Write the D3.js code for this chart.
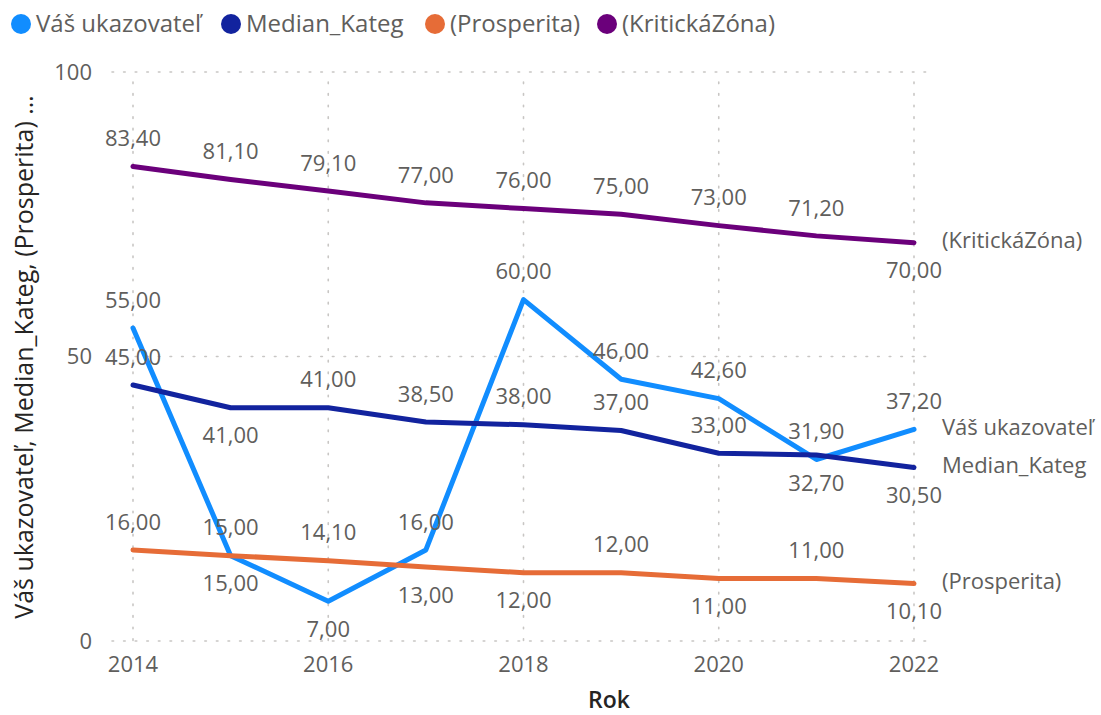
<!DOCTYPE html>
<html lang="en">
<head>
<meta charset="utf-8"/>
<title>Rok chart</title>
<script src="https://cdn.jsdelivr.net/npm/d3@7"></script>
<style>
  body { margin: 0; background: #fff; }
  text { font-family: "Open Sans", "Noto Sans", sans-serif; }
</style>
</head>
<body>
<svg id="chart" width="1101" height="715"></svg>
<script>
// data
const years = [2014, 2015, 2016, 2017, 2018, 2019, 2020, 2021, 2022];
const vasUkazovatel = [55, 15, 7, 16, 60, 46, 42.6, 31.9, 37.2];
const medianKateg = [45, 41, 41, 38.5, 38, 37, 33, 32.7, 30.5];
const prosperita = [16, 15, 14.1, 13, 12, 12, 11, 11, 10.1];
const kritickaZona = [83.4, 81.1, 79.1, 77, 76, 75, 73, 71.2, 70];
const seriesNames = ['Váš ukazovateľ', 'Median_Kateg', '(Prosperita)', '(KritickáZóna)'];
const yTicks = [0, 50, 100];
const xTicks = [2014, 2016, 2018, 2020, 2022];

// which side of the point each data label sits (1 = above, -1 = below)
const labelSide = [
  [1, -1, -1, 1, 1, 1, 1, 1, 1],
  [1, -1, 1, 1, 1, 1, 1, -1, -1],
  [1, 1, 1, -1, -1, 1, -1, 1, -1],
  [1, 1, 1, 1, 1, 1, 1, 1, -1]
];

const colors = ['#118DFF', '#12239E', '#E66C37', '#6B007B'];
const allValues = [vasUkazovatel, medianKateg, prosperita, kritickaZona];

const svg = d3.select('#chart');
const x = d3.scaleLinear().domain([2014, 2022]).range([133, 914]);
const y = d3.scaleLinear().domain([0, 100]).range([641, 72]);
const fmt = v => d3.format('.2f')(v).replace('.', ',');

// gridlines
svg.append('g').selectAll('line').data(yTicks).enter().append('line')
  .attr('x1', 112).attr('x2', 935)
  .attr('y1', d => y(d)).attr('y2', d => y(d))
  .attr('stroke', '#c8c6c4').attr('stroke-width', 1.6)
  .attr('stroke-dasharray', '1.6 10').attr('stroke-linecap', 'round');
svg.append('g').selectAll('line').data(xTicks).enter().append('line')
  .attr('x1', d => x(d)).attr('x2', d => x(d))
  .attr('y1', y(100) + 10).attr('y2', y(0))
  .attr('stroke', '#c8c6c4').attr('stroke-width', 1.6)
  .attr('stroke-dasharray', '1.6 10').attr('stroke-linecap', 'round');

// axis labels
svg.append('g').selectAll('text').data(yTicks).enter().append('text')
  .attr('x', 92).attr('y', d => y(d)).attr('dy', '0.35em')
  .attr('text-anchor', 'end').attr('font-size', 22).attr('fill', '#605E5C')
  .text(d => d);
svg.append('g').selectAll('text').data(xTicks).enter().append('text')
  .attr('x', d => x(d)).attr('y', 664).attr('dy', '0.35em')
  .attr('text-anchor', 'middle').attr('font-size', 22).attr('fill', '#605E5C')
  .text(d => d);

svg.append('text').attr('x', 609).attr('y', 708)
  .attr('text-anchor', 'middle').attr('font-size', 23).attr('fill', '#252423')
  .attr('font-weight', 600)
  .text('Rok');
svg.append('text')
  .attr('transform', 'translate(24,357) rotate(-90)').attr('dy', '0.35em')
  .attr('text-anchor', 'middle').attr('font-size', 25).attr('fill', '#252423')
  .attr('font-weight', 500)
  .text('Váš ukazovateľ, Median_Kateg, (Prosperita) …');

// lines
const line = d3.line().x((d, i) => x(years[i])).y(d => y(d));
svg.append('g').selectAll('path').data(allValues).enter().append('path')
  .attr('d', d => line(d))
  .attr('fill', 'none')
  .attr('stroke', (d, i) => colors[i])
  .attr('stroke-width', 5)
  .attr('stroke-linejoin', 'round')
  .attr('stroke-linecap', 'round');

// data labels
allValues.forEach((vals, s) => {
  svg.append('g').selectAll('text').data(vals).enter().append('text')
    .attr('x', (d, i) => x(years[i]))
    .attr('y', (d, i) => y(d) - labelSide[s][i] * 28)
    .attr('dy', '0.35em')
    .attr('text-anchor', 'middle').attr('font-size', 22).attr('fill', '#605E5C')
    .text(d => fmt(d));
});

// end-of-line series names
svg.append('g').selectAll('text').data(allValues).enter().append('text')
  .attr('x', 942)
  .attr('y', d => y(d[d.length - 1]) - 2)
  .attr('dy', '0.35em')
  .attr('font-size', 22).attr('fill', '#605E5C')
  .text((d, i) => seriesNames[i]);

// legend
const legendX = [21, 231, 435, 607];
const legend = svg.append('g').selectAll('g').data(seriesNames).enter().append('g')
  .attr('transform', (d, i) => `translate(${legendX[i]},24)`);
legend.append('circle').attr('r', 10).attr('fill', (d, i) => colors[i]);
legend.append('text').attr('x', 15).attr('dy', '0.35em')
  .attr('font-size', 24).attr('fill', '#605E5C')
  .text(d => d);
</script>
</body>
</html>
